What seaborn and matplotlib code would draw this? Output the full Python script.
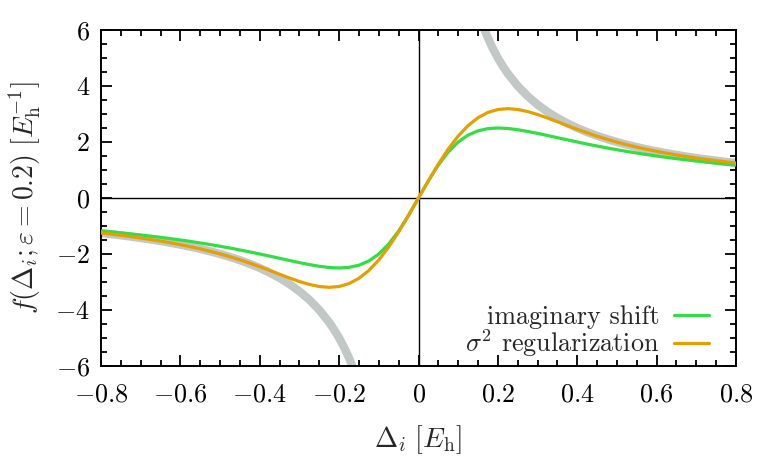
import matplotlib
matplotlib.use("Agg")
import matplotlib.pyplot as plt
from matplotlib.ticker import AutoMinorLocator
from matplotlib.lines import Line2D
import pandas as pd
import seaborn as sb

# Data
delta = [-0.8, -0.775, -0.75, -0.725, -0.7, -0.675, -0.65, -0.625, -0.6, -0.575,
         -0.55, -0.525, -0.5, -0.475, -0.45, -0.425, -0.4, -0.375, -0.35, -0.325,
         -0.3, -0.275, -0.25, -0.225, -0.2, -0.175, -0.15, -0.125, -0.1, -0.075,
         -0.05, -0.025, 0.0, 0.025, 0.05, 0.075, 0.1, 0.125, 0.15, 0.175,
         0.2, 0.225, 0.25, 0.275, 0.3, 0.325, 0.35, 0.375, 0.4, 0.425,
         0.45, 0.475, 0.5, 0.525, 0.55, 0.575, 0.6, 0.625, 0.65, 0.675,
         0.7, 0.725, 0.75, 0.775, 0.8]

imag_shift = [-1.177, -1.210, -1.245, -1.282, -1.321, -1.362, -1.405, -1.451, -1.500, -1.551,
              -1.606, -1.663, -1.724, -1.788, -1.856, -1.926, -2.000, -2.076, -2.154, -2.232,
              -2.308, -2.378, -2.439, -2.483, -2.500, -2.478, -2.400, -2.247, -2.000, -1.644,
              -1.177, -0.615, 0.0, 0.615, 1.177, 1.644, 2.000, 2.247, 2.400, 2.478,
              2.500, 2.483, 2.439, 2.378, 2.308, 2.232, 2.154, 2.076, 2.000, 1.926,
              1.856, 1.788, 1.724, 1.663, 1.606, 1.551, 1.500, 1.451, 1.405, 1.362,
              1.321, 1.282, 1.245, 1.210, 1.177]

sigma2_reg = [-1.250, -1.290, -1.333, -1.379, -1.429, -1.482, -1.538, -1.600, -1.667, -1.739,
              -1.817, -1.903, -1.996, -2.098, -2.208, -2.327, -2.454, -2.587, -2.724, -2.858,
              -2.982, -3.087, -3.162, -3.191, -3.161, -3.057, -2.868, -2.587, -2.212, -1.749,
              -1.212, -0.620, 0.0, 0.620, 1.212, 1.749, 2.212, 2.587, 2.868, 3.057,
              3.161, 3.191, 3.162, 3.087, 2.982, 2.858, 2.724, 2.587, 2.454, 2.327,
              2.208, 2.098, 1.996, 1.903, 1.817, 1.739, 1.667, 1.600, 1.538, 1.482,
              1.429, 1.379, 1.333, 1.290, 1.250]

delta_inv = [-0.8, -0.775, -0.75, -0.725, -0.7, -0.675, -0.65, -0.625, -0.6, -0.575,
             -0.55, -0.525, -0.5, -0.475, -0.45, -0.425, -0.4, -0.375, -0.35, -0.325,
             -0.3, -0.275, -0.25, -0.225, -0.2125, -0.2, -0.1875, -0.175, -0.1625, -0.15]
inverse = [-1.250, -1.290, -1.333, -1.379, -1.429, -1.481, -1.538, -1.600, -1.667, -1.739,
           -1.818, -1.905, -2.000, -2.105, -2.222, -2.353, -2.500, -2.667, -2.857, -3.077,
           -3.333, -3.636, -4.000, -4.444, -4.706, -5.000, -5.333, -5.714, -6.154, -6.667]
delta_inv_pos = [0.15, 0.1625, 0.175, 0.1875, 0.2, 0.2125, 0.225, 0.25, 0.275, 0.3,
                 0.325, 0.35, 0.375, 0.4, 0.425, 0.45, 0.475, 0.5, 0.525, 0.55,
                 0.575, 0.6, 0.625, 0.65, 0.675, 0.7, 0.725, 0.75, 0.775, 0.8]
inverse_pos = [6.667, 6.154, 5.714, 5.333, 5.000, 4.706, 4.444, 4.000, 3.636, 3.333,
               3.077, 2.857, 2.667, 2.500, 2.353, 2.222, 2.105, 2.000, 1.905, 1.818,
               1.739, 1.667, 1.600, 1.538, 1.481, 1.429, 1.379, 1.333, 1.290, 1.250]

xticks = [-0.8, -0.6, -0.4, -0.2, 0.0, 0.2, 0.4, 0.6, 0.8]
xticklabels = ["$-0.8$", "$-0.6$", "$-0.4$", "$-0.2$", "$0$", "$0.2$", "$0.4$", "$0.6$", "$0.8$"]
yticks = [-6, -4, -2, 0, 2, 4, 6]
yticklabels = ["$-6$", "$-4$", "$-2$", "$0$", "$2$", "$4$", "$6$"]
legend_labels = ["imaginary shift", "$\\sigma^2$ regularization"]

sb.set_style("ticks")
plt.rcParams["font.family"] = ["cmr10", "DejaVu Serif"]
plt.rcParams["mathtext.fontset"] = "cm"
plt.rcParams["axes.unicode_minus"] = True
plt.rcParams["font.size"] = 18.8

c_gray = "#c2c8c5"
c_green = "#33dd44"
c_orange = "#e69f00"

fig = plt.figure(figsize=(7.73, 4.58), dpi=100)
ax = fig.add_axes([0.1307, 0.2009, 0.8214, 0.7336])

ax.axhline(0, color="black", lw=1.0, zorder=1)
ax.axvline(0, color="black", lw=1.0, zorder=1)

df = pd.DataFrame({"delta": delta, "imag": imag_shift, "sigma": sigma2_reg})
sb.lineplot(x=delta_inv, y=inverse, color=c_gray, lw=6.0, ax=ax, zorder=2)
sb.lineplot(x=delta_inv_pos, y=inverse_pos, color=c_gray, lw=6.0, ax=ax, zorder=2)
sb.lineplot(data=df, x="delta", y="imag", color=c_green, lw=2.3, ax=ax, zorder=3)
sb.lineplot(data=df, x="delta", y="sigma", color=c_orange, lw=2.3, ax=ax, zorder=4)

ax.set_xlim(-0.8, 0.8)
ax.set_ylim(-6, 6)
ax.set_xticks(xticks)
ax.set_xticklabels(xticklabels)
ax.set_yticks(yticks)
ax.set_yticklabels(yticklabels)
ax.xaxis.set_minor_locator(AutoMinorLocator(4))
ax.yaxis.set_minor_locator(AutoMinorLocator(4))
ax.tick_params(which="both", direction="in", top=True, right=True, width=1.3, colors="black")
ax.tick_params(which="major", length=8)
ax.tick_params(which="minor", length=4.5)
ax.tick_params(axis="x", which="major", pad=12)
ax.tick_params(axis="y", which="major", pad=8)
for s in ax.spines.values():
    s.set_linewidth(1.4)
    s.set_color("black")

ax.set_xlabel("$\\Delta_i\\ [E_\\mathrm{h}]$", fontsize=20, labelpad=12)
ax.set_ylabel("$f(\\Delta_i; \\varepsilon = 0.2)\\ [E_\\mathrm{h}^{-1}]$", fontsize=20, labelpad=9)

handles = [Line2D([], [], color=c_green, lw=2.3), Line2D([], [], color=c_orange, lw=2.3)]
ax.legend(handles, legend_labels, loc="lower right", frameon=False, markerfirst=False,
          handlelength=1.35, handletextpad=0.55, labelspacing=-0.05,
          bbox_to_anchor=(0.982, -0.027), borderaxespad=0.2)

fig.savefig("out.png", dpi=100)
